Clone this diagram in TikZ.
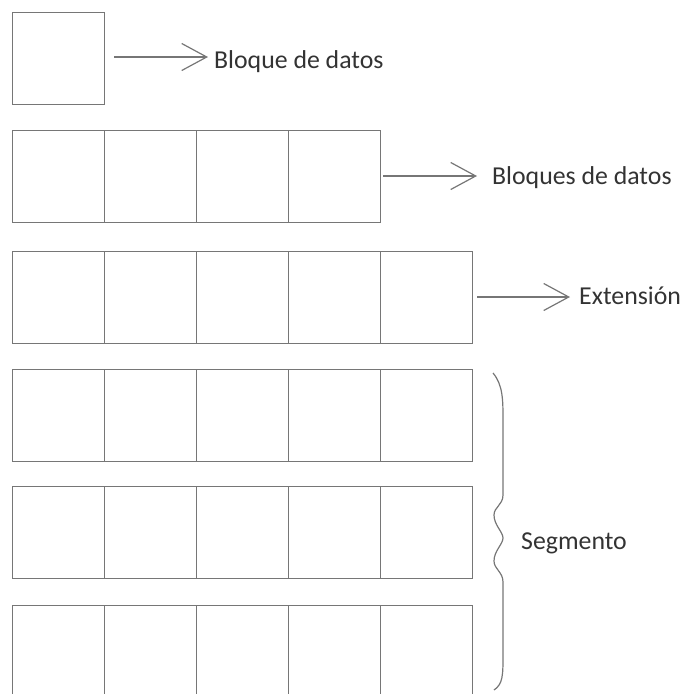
\documentclass[tikz,border=0pt]{standalone}
\usepackage{fontspec}
\setmainfont{Carlito}
\usetikzlibrary{arrows.meta}
\definecolor{linegray}{HTML}{767676}
\definecolor{txtgray}{HTML}{333333}
\begin{document}
\begin{tikzpicture}[x=1pt,y=-1pt,
  cell/.style={draw=linegray,line width=1.3pt,minimum width=92pt,minimum height=92pt,inner sep=0pt,anchor=north west},
  lbl/.style={text=txtgray,font=\fontsize{25.8}{30}\selectfont,inner sep=0pt,anchor=base west},
  conn/.style={draw=linegray,line width=1.2pt,-{Straight Barb[length=25pt,width=27pt,line width=1.2pt]}},
  bracepath/.style={draw=linegray,line width=1.2pt}]
\clip (0,0) rectangle (686,694);
\useasboundingbox (0,0) rectangle (686,694);
% row 1
\node[cell] (r1c1) at (12,12) {};
% row 2
\foreach \i/\x in {1/12,2/104,3/196,4/288}{\node[cell] (r2c\i) at (\x,130) {};}
% rows 3-6
\foreach \r/\y in {3/251,4/369,5/486,6/605}{
  \foreach \i/\x in {1/12,2/104,3/196,4/288,5/380}{\node[cell] (r\r c\i) at (\x,\y) {};}
}
% labels
\node[lbl] (l1) at (214,68) {Bloque de datos};
\node[lbl] (l2) at (492,184) {Bloques de datos};
\node[lbl] (l3) at (579,304) {Extensión};
\node[lbl] (l4) at (521,549) {Segmento};
% arrows
\coordinate (a1s) at (114,57); \coordinate (a1e) at (208,57);
\coordinate (a2s) at (383,176); \coordinate (a2e) at (477,176);
\coordinate (a3s) at (477,297); \coordinate (a3e) at (570,297);
\draw[conn] (a1s) -- (a1e);
\draw[conn] (a2s) -- (a2e);
\draw[conn] (a3s) -- (a3e);
% brace
\draw[bracepath] (493,373) .. controls (503,385) and (503,400) .. (503,420) -- (503,495)
  .. controls (503,505) and (494,507) .. (494,515)
  .. controls (494,525) and (503,532) .. (503,538)
  .. controls (503,544) and (494,551) .. (494,561)
  .. controls (494,569) and (503,572) .. (503,582) -- (503,655)
  .. controls (503,675) and (503,684) .. (494,690);
\end{tikzpicture}
\end{document}
